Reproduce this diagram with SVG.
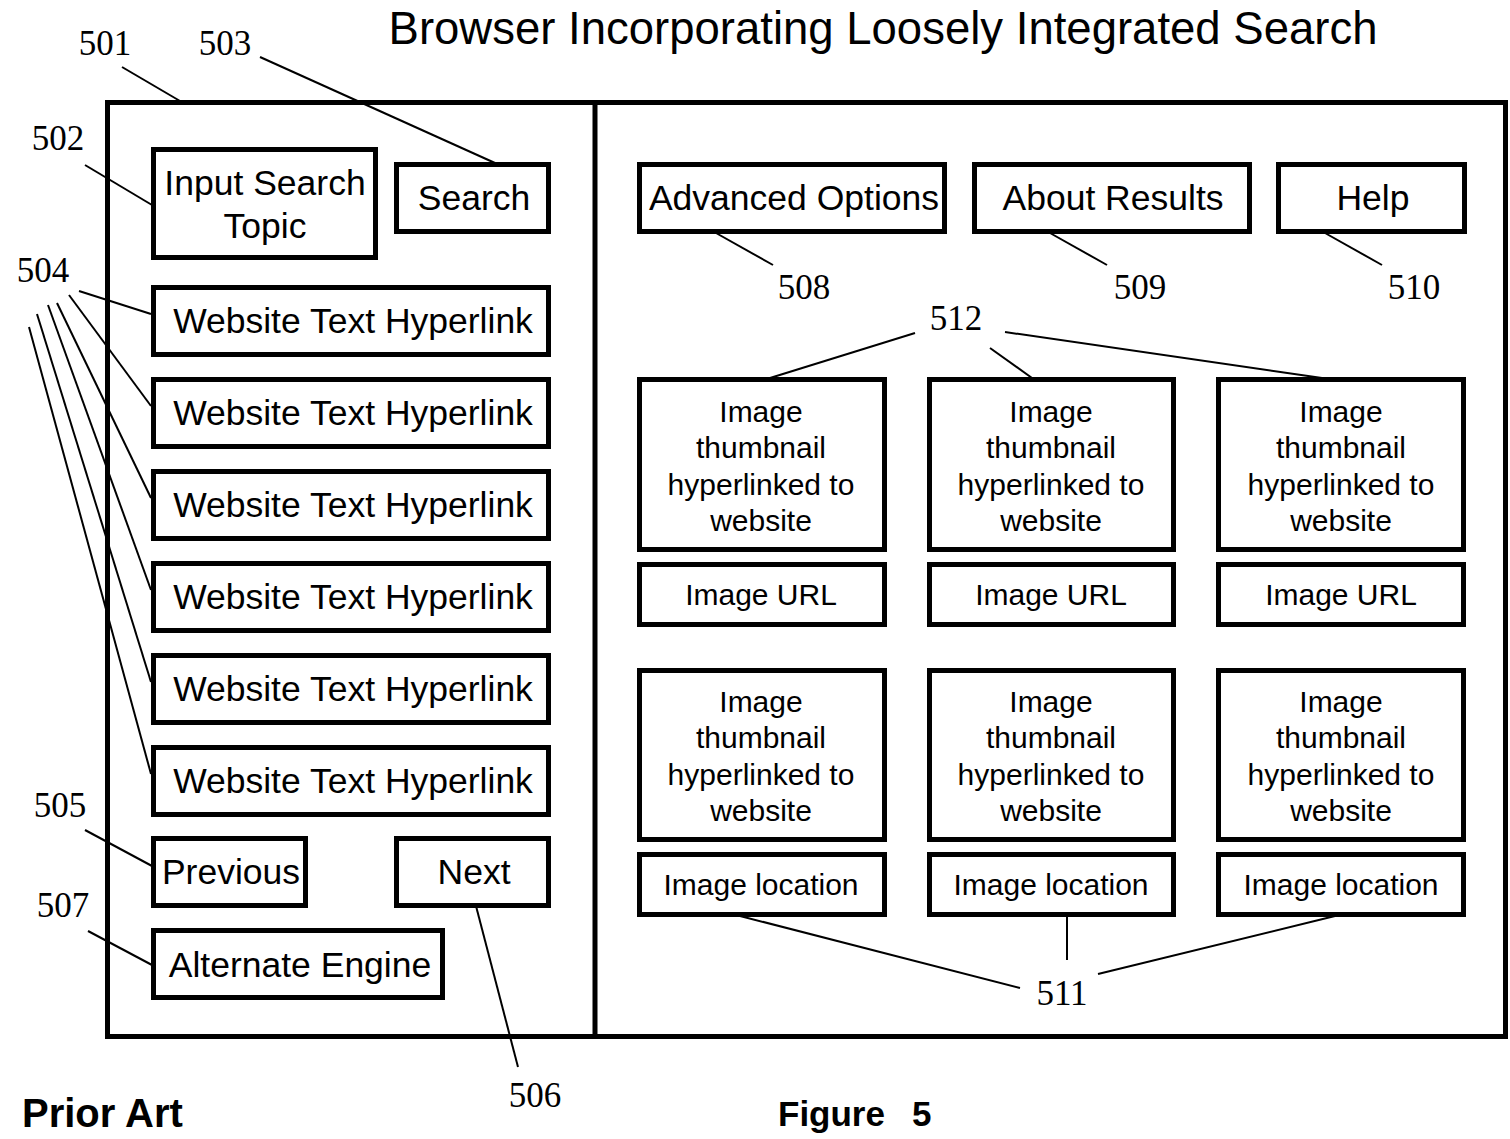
<svg xmlns="http://www.w3.org/2000/svg" width="1510" height="1139" viewBox="0 0 1510 1139">
<style>
.box{fill:#fff;stroke:#000;stroke-width:5}
.t{font-family:"Liberation Sans",Arial,sans-serif;font-size:35.5px;text-anchor:middle;fill:#000}
.s{font-family:"Liberation Sans",Arial,sans-serif;font-size:30px;text-anchor:middle;fill:#000}
.n{font-family:"Liberation Serif","Times New Roman",serif;font-size:35px;text-anchor:middle;fill:#000}
.ld{stroke:#000;stroke-width:2;fill:none}
</style>
<rect width="1510" height="1139" fill="#fff"/>
<text x="883" y="44" font-family="Liberation Sans,Arial,sans-serif" font-size="45.5" text-anchor="middle">Browser Incorporating Loosely Integrated Search</text>
<g id="frame">
<rect x="107.5" y="102.5" width="1398" height="934" fill="none" stroke="#000" stroke-width="5"/>
<line x1="595" y1="102" x2="595" y2="1037" stroke="#000" stroke-width="5"/>
</g>
<g id="n502"><rect class="box" x="153.5" y="149.5" width="222" height="108"/><text class="t" x="265" y="195">Input Search</text><text class="t" x="265" y="238">Topic</text></g>
<g id="n503"><rect class="box" x="396.5" y="164.5" width="152" height="67"/><text class="t" x="474" y="210">Search</text></g>
<g id="n504a"><rect class="box" x="153.5" y="287.5" width="395" height="67"/><text class="t" x="353" y="333">Website Text Hyperlink</text></g>
<g id="n504b"><rect class="box" x="153.5" y="379.5" width="395" height="67"/><text class="t" x="353" y="425">Website Text Hyperlink</text></g>
<g id="n504c"><rect class="box" x="153.5" y="471.5" width="395" height="67"/><text class="t" x="353" y="517">Website Text Hyperlink</text></g>
<g id="n504d"><rect class="box" x="153.5" y="563.5" width="395" height="67"/><text class="t" x="353" y="609">Website Text Hyperlink</text></g>
<g id="n504e"><rect class="box" x="153.5" y="655.5" width="395" height="67"/><text class="t" x="353" y="701">Website Text Hyperlink</text></g>
<g id="n504f"><rect class="box" x="153.5" y="747.5" width="395" height="67"/><text class="t" x="353" y="793">Website Text Hyperlink</text></g>
<g id="n505"><rect class="box" x="153.5" y="838.5" width="152" height="67"/><text class="t" x="231" y="884">Previous</text></g>
<g id="n506"><rect class="box" x="396.5" y="838.5" width="152" height="67"/><text class="t" x="474" y="884">Next</text></g>
<g id="n507"><rect class="box" x="153.5" y="930.5" width="289" height="67"/><text class="t" x="300" y="977">Alternate Engine</text></g>
<g id="n508"><rect class="box" x="639.5" y="164.5" width="305" height="67"/><text class="t" x="794" y="210">Advanced Options</text></g>
<g id="n509"><rect class="box" x="974.5" y="164.5" width="275" height="67"/><text class="t" x="1113" y="210">About Results</text></g>
<g id="n510"><rect class="box" x="1278.5" y="164.5" width="186" height="67"/><text class="t" x="1373" y="210">Help</text></g>
<g id="thumb1"><rect class="box" x="639.5" y="379.5" width="245" height="170"/><text class="s" x="761" y="422">Image</text><text class="s" x="761" y="458">thumbnail</text><text class="s" x="761" y="495">hyperlinked to</text><text class="s" x="761" y="531">website</text></g>
<g id="thumb2"><rect class="box" x="929.5" y="379.5" width="244" height="170"/><text class="s" x="1051" y="422">Image</text><text class="s" x="1051" y="458">thumbnail</text><text class="s" x="1051" y="495">hyperlinked to</text><text class="s" x="1051" y="531">website</text></g>
<g id="thumb3"><rect class="box" x="1218.5" y="379.5" width="245" height="170"/><text class="s" x="1341" y="422">Image</text><text class="s" x="1341" y="458">thumbnail</text><text class="s" x="1341" y="495">hyperlinked to</text><text class="s" x="1341" y="531">website</text></g>
<g id="url1"><rect class="box" x="639.5" y="564.5" width="245" height="60"/><text class="s" x="761" y="605">Image URL</text></g>
<g id="url2"><rect class="box" x="929.5" y="564.5" width="244" height="60"/><text class="s" x="1051" y="605">Image URL</text></g>
<g id="url3"><rect class="box" x="1218.5" y="564.5" width="245" height="60"/><text class="s" x="1341" y="605">Image URL</text></g>
<g id="thumb4"><rect class="box" x="639.5" y="670.5" width="245" height="169"/><text class="s" x="761" y="712">Image</text><text class="s" x="761" y="748">thumbnail</text><text class="s" x="761" y="785">hyperlinked to</text><text class="s" x="761" y="821">website</text></g>
<g id="thumb5"><rect class="box" x="929.5" y="670.5" width="244" height="169"/><text class="s" x="1051" y="712">Image</text><text class="s" x="1051" y="748">thumbnail</text><text class="s" x="1051" y="785">hyperlinked to</text><text class="s" x="1051" y="821">website</text></g>
<g id="thumb6"><rect class="box" x="1218.5" y="670.5" width="245" height="169"/><text class="s" x="1341" y="712">Image</text><text class="s" x="1341" y="748">thumbnail</text><text class="s" x="1341" y="785">hyperlinked to</text><text class="s" x="1341" y="821">website</text></g>
<g id="loc1"><rect class="box" x="639.5" y="854.5" width="245" height="60"/><text class="s" x="761" y="895">Image location</text></g>
<g id="loc2"><rect class="box" x="929.5" y="854.5" width="244" height="60"/><text class="s" x="1051" y="895">Image location</text></g>
<g id="loc3"><rect class="box" x="1218.5" y="854.5" width="245" height="60"/><text class="s" x="1341" y="895">Image location</text></g>
<g id="connectors">
<line class="ld" x1="122" y1="67" x2="180" y2="101"/>
<line class="ld" x1="260" y1="57" x2="495" y2="163"/>
<line class="ld" x1="85" y1="165" x2="152" y2="205"/>
<line class="ld" x1="79" y1="291" x2="151" y2="314"/>
<line class="ld" x1="69" y1="295" x2="151" y2="406"/>
<line class="ld" x1="57" y1="303" x2="151" y2="498"/>
<line class="ld" x1="48" y1="305" x2="151" y2="590"/>
<line class="ld" x1="37" y1="314" x2="151" y2="682"/>
<line class="ld" x1="29" y1="327" x2="151" y2="774"/>
<line class="ld" x1="85" y1="830" x2="152" y2="866"/>
<line class="ld" x1="88" y1="931" x2="152" y2="965"/>
<line class="ld" x1="476" y1="906" x2="518" y2="1067"/>
<line class="ld" x1="716" y1="233" x2="773" y2="265"/>
<line class="ld" x1="1050" y1="233" x2="1107" y2="265"/>
<line class="ld" x1="1325" y1="233" x2="1382" y2="265"/>
<line class="ld" x1="915" y1="333" x2="770" y2="378"/>
<line class="ld" x1="990" y1="348" x2="1032" y2="378"/>
<line class="ld" x1="1005" y1="332" x2="1322" y2="378"/>
<line class="ld" x1="740" y1="916" x2="1020" y2="988"/>
<line class="ld" x1="1067" y1="916" x2="1067" y2="960"/>
<line class="ld" x1="1335" y1="916" x2="1098" y2="974"/>
</g>
<g id="labels">
<text class="n" x="105" y="55">501</text>
<text class="n" x="225" y="55">503</text>
<text class="n" x="58" y="150">502</text>
<text class="n" x="43" y="282">504</text>
<text class="n" x="60" y="817">505</text>
<text class="n" x="63" y="917">507</text>
<text class="n" x="535" y="1107">506</text>
<text class="n" x="804" y="299">508</text>
<text class="n" x="1140" y="299">509</text>
<text class="n" x="1414" y="299">510</text>
<text class="n" x="956" y="330">512</text>
<text class="n" x="1062" y="1005">511</text>
</g>
<text x="22" y="1127" font-family="Liberation Sans,Arial,sans-serif" font-size="40" font-weight="bold">Prior Art</text>
<text x="778" y="1126" font-family="Liberation Sans,Arial,sans-serif" font-size="35" font-weight="bold">Figure<tspan x="912">5</tspan></text>
</svg>
